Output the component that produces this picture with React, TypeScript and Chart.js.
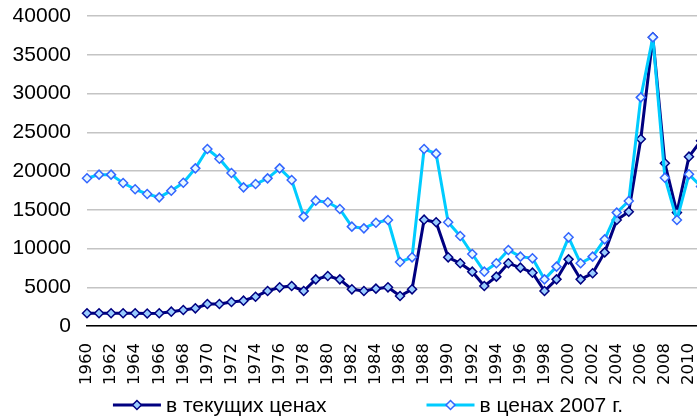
import React, { useEffect, useRef } from "react";
import { Chart, registerables } from "chart.js";

Chart.register(...registerables);

const years: string[] = [
  "1960","1961","1962","1963","1964","1965","1966","1967","1968","1969",
  "1970","1971","1972","1973","1974","1975","1976","1977","1978","1979",
  "1980","1981","1982","1983","1984","1985","1986","1987","1988","1989",
  "1990","1991","1992","1993","1994","1995","1996","1997","1998","1999",
  "2000","2001","2002","2003","2004","2005","2006","2007","2008","2009",
  "2010","2011",
];

const currentPrices: number[] = [
  1640, 1640, 1640, 1640, 1640, 1620, 1640, 1850, 2060, 2280,
  2840, 2840, 3100, 3270, 3780, 4520, 4990, 5160, 4520, 6020,
  6450, 6020, 4730, 4520, 4820, 4990, 3870, 4730, 13720, 13380,
  8860, 8090, 7010, 5160, 6370, 8090, 7530, 6880, 4520, 6020,
  8600, 6020, 6800, 9500, 13680, 14750, 24130, 37250, 21000, 14630,
  21850, 23900,
];

const prices2007: number[] = [
  19060, 19530, 19530, 18450, 17640, 17030, 16600, 17460, 18490, 20340,
  22840, 21590, 19740, 17890, 18320, 19050, 20340, 18840, 14110, 16170,
  15960, 15100, 12820, 12600, 13330, 13680, 8260, 8860, 22840, 22240,
  13380, 11610, 9290, 7010, 8090, 9810, 8950, 8730, 6020, 7660,
  11440, 8090, 8950, 11180, 14630, 16130, 29500, 37250, 19140, 13680,
  19570, 18000,
];

const seriesNames: string[] = ["в текущих ценах", "в ценах 2007 г."];
const yTicks = { min: 0, max: 40000, step: 5000 };

const FONT = "'Liberation Sans', Arial, sans-serif";
const XFONT = "'DejaVu Sans', sans-serif";

const legendPlugin = {
  id: "lineLegend",
  afterDraw(chart: any) {
    const ctx: CanvasRenderingContext2D = chart.ctx;
    const items = chart.data.datasets.map((ds: any) => ({
      text: ds.label,
      line: ds.borderColor,
      fill: ds.pointBackgroundColor,
      stroke: ds.pointBorderColor,
    }));
    ctx.save();
    ctx.font = `21px ${FONT}`;
    ctx.textBaseline = "middle";
    ctx.textAlign = "left";
    const lineW = 48;
    const gapText = 5;
    const gapItems = 100;
    const widths = items.map((it: any) => lineW + gapText + ctx.measureText(it.text).width);
    const total = widths.reduce((a: number, b: number) => a + b, 0) + gapItems * (items.length - 1);
    let x = 368 - total / 2;
    const y = 405;
    items.forEach((it: any, i: number) => {
      ctx.strokeStyle = it.line;
      ctx.lineWidth = 3;
      ctx.beginPath();
      ctx.moveTo(x, y);
      ctx.lineTo(x + lineW, y);
      ctx.stroke();
      const cx = x + lineW / 2;
      const r = 4.5;
      ctx.beginPath();
      ctx.moveTo(cx, y - r);
      ctx.lineTo(cx + r, y);
      ctx.lineTo(cx, y + r);
      ctx.lineTo(cx - r, y);
      ctx.closePath();
      ctx.fillStyle = it.fill;
      ctx.fill();
      ctx.lineWidth = 1.5;
      ctx.strokeStyle = it.stroke;
      ctx.stroke();
      ctx.fillStyle = "#000";
      ctx.fillText(it.text, x + lineW + gapText, y + 1);
      x += widths[i] + gapItems;
    });
    ctx.restore();
  },
};

export default function App() {
  const ref = useRef<HTMLCanvasElement | null>(null);
  useEffect(() => {
    if (!ref.current) return;
    const chart = new Chart(ref.current, {
      type: "line",
      data: {
        labels: years,
        datasets: [
          {
            label: seriesNames[0],
            data: currentPrices,
            borderColor: "#000080",
            borderWidth: 3,
            borderJoinStyle: "round",
            pointStyle: "rectRot",
            pointRadius: 4.5,
            pointBorderWidth: 1.5,
            pointBackgroundColor: "#99ccff",
            pointBorderColor: "#000080",
            tension: 0,
            order: 1,
          },
          {
            label: seriesNames[1],
            data: prices2007,
            borderColor: "#00ccff",
            borderWidth: 3,
            borderJoinStyle: "round",
            pointStyle: "rectRot",
            pointRadius: 4.5,
            pointBorderWidth: 1.5,
            pointBackgroundColor: "#e8f8ff",
            pointBorderColor: "#3366ff",
            tension: 0,
            order: 0,
          },
        ],
      },
      options: {
        responsive: false,
        animation: false,
        devicePixelRatio: 1,
        layout: { padding: { left: 0, right: 39, top: 16, bottom: 0 } },
        plugins: {
          legend: { display: false },
          tooltip: { enabled: false },
        },
        scales: {
          x: {
            type: "category",
            offset: false,
            grid: { display: false, drawTicks: false },
            border: { display: true, color: "#000", width: 1.5 },
            ticks: {
              autoSkip: false,
              minRotation: 90,
              maxRotation: 90,
              padding: 17,
              color: "#000",
              font: { family: XFONT, size: 16.5 },
              callback: (_v: any, i: number) => (i % 2 === 0 ? years[i] : ""),
            },
            afterFit: (scale: any) => {
              scale.height = 92;
            },
          },
          y: {
            min: yTicks.min,
            max: yTicks.max,
            grid: {
              color: "#c4c4c4",
              lineWidth: 1.5,
              drawTicks: true,
              tickLength: 13,
              tickColor: "rgba(0,0,0,0)",
            },
            border: { display: false },
            ticks: {
              stepSize: yTicks.step,
              padding: 3,
              color: "#000",
              font: { family: FONT, size: 21 },
              callback: (v: any) => String(v),
            },
            afterFit: (scale: any) => {
              scale.width = 87;
            },
          },
        },
      },
      plugins: [legendPlugin],
    });
    return () => chart.destroy();
  }, []);
  return (
    <div
      style={{
        position: "fixed",
        left: 0,
        top: 0,
        width: 697,
        height: 418,
        overflow: "hidden",
        background: "#fff",
      }}
    >
      <canvas ref={ref} width={740} height={418} style={{ display: "block" }} />
    </div>
  );
}
